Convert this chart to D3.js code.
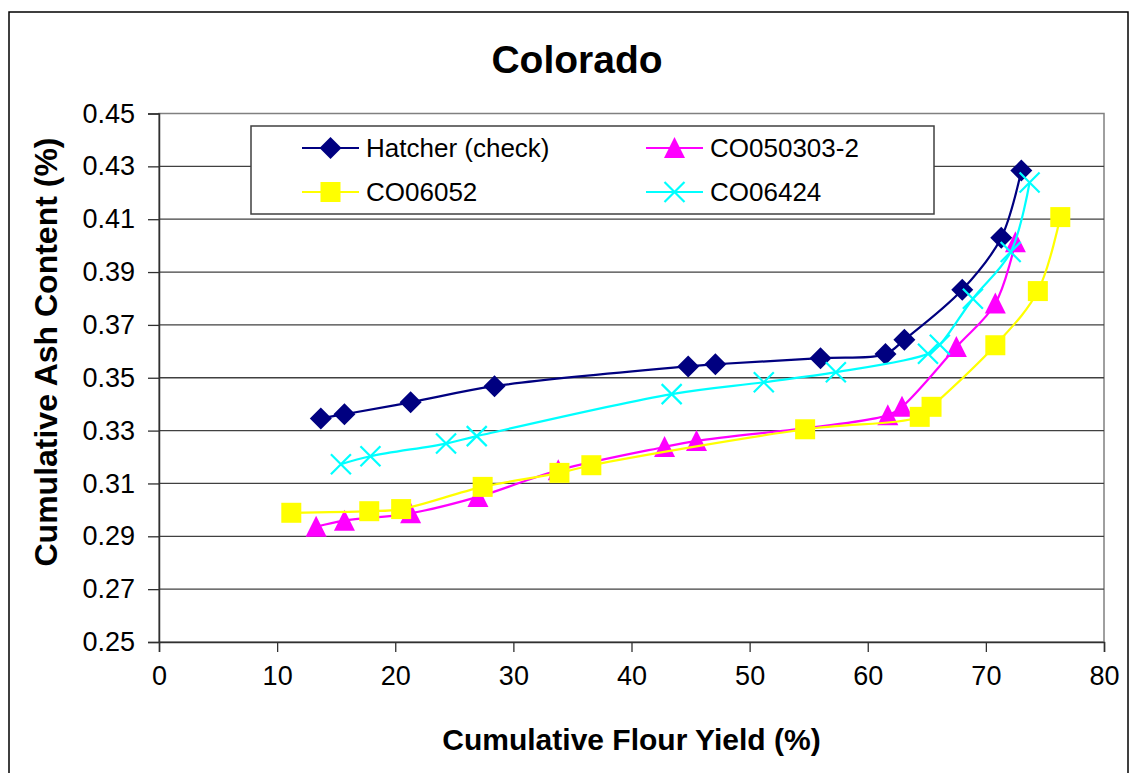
<!DOCTYPE html>
<html>
<head>
<meta charset="utf-8">
<script src="https://cdn.jsdelivr.net/npm/d3@7"></script>
<style>
  body { margin: 0; background: #fff; }
  text { font-family: "Liberation Sans", Arial, sans-serif; }
</style>
</head>
<body>
<div id="chart"></div>
<script>
// ---- data ----
var xTicks = [0, 10, 20, 30, 40, 50, 60, 70, 80];
var yTicks = [0.25, 0.27, 0.29, 0.31, 0.33, 0.35, 0.37, 0.39, 0.41, 0.43, 0.45];

var seriesNames = ["Hatcher (check)", "CO050303-2", "CO06052", "CO06424"];

var hatcherX = [13.7, 15.7, 21.3, 28.4, 44.8, 47.1, 56.0, 61.5, 63.1, 68.0, 71.3, 73.0];
var hatcherY = [0.3346, 0.3362, 0.3407, 0.3468, 0.3543, 0.3551, 0.3574, 0.3590, 0.3644, 0.3833, 0.4030, 0.4284];

var co050303X = [13.3, 15.7, 21.3, 27.0, 33.8, 42.8, 45.5, 61.7, 62.9, 67.5, 70.8, 72.5];
var co050303Y = [0.2936, 0.2959, 0.2987, 0.3049, 0.3150, 0.3238, 0.3261, 0.3358, 0.3390, 0.3616, 0.3781, 0.4013];

var co06052X = [11.2, 17.8, 20.5, 27.4, 33.9, 36.6, 54.7, 64.4, 65.4, 70.8, 74.4, 76.3];
var co06052Y = [0.2989, 0.2995, 0.3003, 0.3087, 0.3140, 0.3169, 0.3305, 0.3352, 0.3390, 0.3623, 0.3828, 0.4108];

var co06424X = [15.4, 17.9, 24.3, 26.9, 43.4, 51.2, 57.3, 65.1, 66.1, 68.9, 72.1, 73.7];
var co06424Y = [0.3173, 0.3203, 0.3251, 0.3279, 0.3438, 0.3483, 0.3521, 0.3591, 0.3625, 0.3799, 0.3976, 0.4239];

var seriesX = [hatcherX, co050303X, co06052X, co06424X];
var seriesY = [hatcherY, co050303Y, co06052Y, co06424Y];
var seriesColors = ["#000080", "#FF00FF", "#FFFF00", "#00FFFF"];
var seriesMarkers = ["diamond", "triangle", "square", "cross"];

// ---- layout ----
var W = 1130, H = 773;
var plot = {left: 159, right: 1104, top: 113.5, bottom: 642};

var svg = d3.select("#chart").append("svg")
    .attr("width", W).attr("height", H);

svg.append("rect").attr("width", W).attr("height", H).attr("fill", "#fff");

// outer chart border
svg.append("rect")
    .attr("x", 9).attr("y", 12).attr("width", 1119).attr("height", 800)
    .attr("fill", "none").attr("stroke", "#000").attr("stroke-width", 1.5);

var x = d3.scaleLinear().domain([0, 80]).range([plot.left, plot.right]);
var y = d3.scaleLinear().domain([0.25, 0.45]).range([plot.bottom, plot.top]);

// plot area frame (top/right light)
svg.append("rect")
    .attr("x", plot.left).attr("y", plot.top)
    .attr("width", plot.right - plot.left).attr("height", plot.bottom - plot.top)
    .attr("fill", "#fff").attr("stroke", "#808080").attr("stroke-width", 1.5);

// gridlines
svg.append("g")
    .selectAll("line")
    .data(yTicks.slice(1, -1))
    .join("line")
    .attr("x1", plot.left).attr("x2", plot.right)
    .attr("y1", function (d) { return y(d); })
    .attr("y2", function (d) { return y(d); })
    .attr("stroke", "#404040").attr("stroke-width", 1.3);

// axes
var yAxis = svg.append("g")
    .attr("transform", "translate(" + plot.left + ",0)")
    .call(d3.axisLeft(y).tickValues(yTicks).tickSize(11).tickPadding(13)
        .tickFormat(d3.format(".2f")));
var xAxis = svg.append("g")
    .attr("transform", "translate(0," + plot.bottom + ")")
    .call(d3.axisBottom(x).tickValues(xTicks).tickSize(10).tickPadding(14)
        .tickFormat(d3.format("d")));

[xAxis, yAxis].forEach(function (ax) {
    ax.select(".domain").attr("stroke", "#303030").attr("stroke-width", 1.5);
    ax.selectAll(".tick line").attr("stroke", "#303030").attr("stroke-width", 1.3);
    ax.selectAll(".tick text").attr("fill", "#000")
        .style("font-family", "'Liberation Sans', Arial, sans-serif")
        .style("font-size", "27px");
});

// titles
svg.append("text")
    .attr("x", 577).attr("y", 73)
    .attr("text-anchor", "middle")
    .style("font-size", "39px").style("font-weight", "bold")
    .text("Colorado");

svg.append("text")
    .attr("x", (plot.left + plot.right) / 2).attr("y", 750)
    .attr("text-anchor", "middle")
    .style("font-size", "30px").style("font-weight", "bold")
    .text("Cumulative Flour Yield (%)");

svg.append("text")
    .attr("transform", "translate(57,352) rotate(-90)")
    .attr("text-anchor", "middle")
    .style("font-size", "32px").style("font-weight", "bold")
    .text("Cumulative Ash Content (%)");

// markers
function drawMarker(g, type, color, cx, cy) {
    if (type === "diamond") {
        g.append("path")
            .attr("d", "M0,-11L11,0L0,11L-11,0Z")
            .attr("transform", "translate(" + cx + "," + cy + ")")
            .attr("fill", color);
    } else if (type === "square") {
        g.append("rect")
            .attr("x", cx - 10).attr("y", cy - 10)
            .attr("width", 20).attr("height", 20)
            .attr("fill", color);
    } else if (type === "triangle") {
        g.append("path")
            .attr("d", "M0,-11L10.5,10L-10.5,10Z")
            .attr("transform", "translate(" + cx + "," + cy + ")")
            .attr("fill", color);
    } else if (type === "cross") {
        g.append("path")
            .attr("d", "M-10,-10L10,10M10,-10L-10,10")
            .attr("transform", "translate(" + cx + "," + cy + ")")
            .attr("stroke", color).attr("stroke-width", 2.2).attr("fill", "none");
    }
}

var line = d3.line()
    .x(function (d) { return x(d[0]); })
    .y(function (d) { return y(d[1]); })
    .curve(d3.curveCatmullRom.alpha(0.5));

seriesNames.forEach(function (name, i) {
    var pts = seriesX[i].map(function (v, j) { return [v, seriesY[i][j]]; });
    var g = svg.append("g");
    g.append("path")
        .attr("d", line(pts))
        .attr("fill", "none")
        .attr("stroke", seriesColors[i])
        .attr("stroke-width", 2.2);
    pts.forEach(function (p) {
        drawMarker(g, seriesMarkers[i], seriesColors[i], x(p[0]), y(p[1]));
    });
});

// legend
var legend = svg.append("g");
legend.append("rect")
    .attr("x", 251).attr("y", 126).attr("width", 683).attr("height", 88)
    .attr("fill", "#fff").attr("stroke", "#404040").attr("stroke-width", 1.5);

var legendPos = [[302, 148], [646, 148], [302, 192], [646, 192]];
seriesNames.forEach(function (name, i) {
    var lx = legendPos[i][0], ly = legendPos[i][1];
    legend.append("line")
        .attr("x1", lx).attr("x2", lx + 57)
        .attr("y1", ly).attr("y2", ly)
        .attr("stroke", seriesColors[i]).attr("stroke-width", 2.2);
    drawMarker(legend, seriesMarkers[i], seriesColors[i], lx + 28.5, ly);
    legend.append("text")
        .attr("x", lx + 64).attr("y", ly + 9)
        .style("font-size", "26px")
        .text(name);
});
</script>
</body>
</html>
